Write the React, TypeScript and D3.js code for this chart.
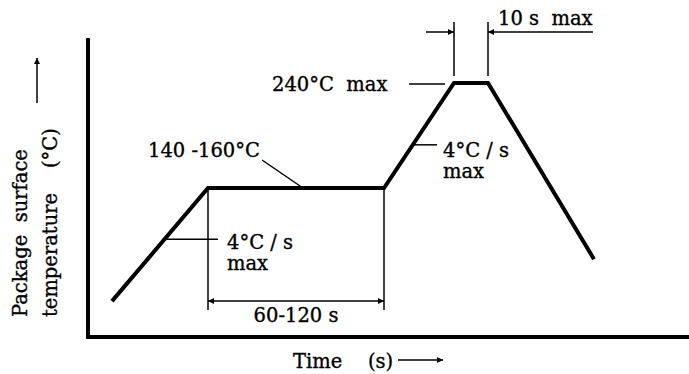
import React from 'react'
import * as d3 from 'd3'

const W = 689
const H = 374

// reflow profile (schematic), time in s, temperature in °C
const times = [12, 60, 148, 183, 200, 253]
const temps = [53, 150, 150, 240, 240, 89]

const soak = [60, 148]
const peak = [183, 200]
const soakLabel = '140 -160°C'
const peakLabel = '240°C  max'
const rampLabel = ['4°C / s', 'max']
const soakTimeLabel = '60-120 s'
const peakTimeLabel = '10 s  max'
const yLabel = ['Package  surface', 'temperature    (°C)']
const xLabel = ['Time', '(s)']

const font = '"DejaVu Serif", "Liberation Serif", serif'
const fs = 19.5
const ink = '#000'
const pre = { whiteSpace: 'pre' as const }

const frame = { left: 88, top: 38, bottom: 337, right: W }

const x = d3.scaleLinear().domain([0, 300]).range([88, 688])
const y = d3.scaleLinear().domain([150, 240]).range([188, 83])

// x position on segment i..i+1 at temperature T
const onRamp = (i: number, T: number) => {
  const t = times[i] + (T - temps[i]) / (temps[i + 1] - temps[i]) * (times[i + 1] - times[i])
  return x(t)
}

const App = () => {
  const pts = times.map((t, i) => [x(t), y(temps[i])] as [number, number])
  const line = d3.line()(pts) as string

  const leftRampT = 106
  const rightRampT = 187
  const lx = onRamp(0, leftRampT)
  const rx = onRamp(2, rightRampT)

  return (
    <svg width={W} height={H} style={{ position: 'absolute', left: 0, top: 0, background: '#fff' }}
      fontFamily={font} fontSize={fs} fill={ink}>
      <defs>
        <marker id="ah" viewBox="0 0 10 10" refX="10" refY="5" markerUnits="userSpaceOnUse"
          markerWidth="10" markerHeight="6" orient="auto-start-reverse">
          <path d="M0,0 L10,5 L0,10 z" fill={ink} />
        </marker>
      </defs>

      {/* axes */}
      <path d={`M${frame.left},${frame.top} V${frame.bottom} H${frame.right}`} fill="none" stroke={ink} strokeWidth={4} />

      {/* profile */}
      <path d={line} fill="none" stroke={ink} strokeWidth={4} strokeLinejoin="miter" />

      <g stroke={ink} strokeWidth={0.35}>
        <text x={(x(soak[0]) + x(soak[1])) / 2} y={322} textAnchor="middle">{soakTimeLabel}</text>
        <text x={148} y={157}>{soakLabel}</text>
        <text x={227} y={249}>{rampLabel[0]}</text>
        <text x={227} y={270}>{rampLabel[1]}</text>
        <text x={443} y={157}>{rampLabel[0]}</text>
        <text x={443} y={178}>{rampLabel[1]}</text>
        <text x={272} y={91} style={pre}>{peakLabel}</text>
        <text x={498} y={25} style={pre}>{peakTimeLabel}</text>
        <text transform="translate(27,317) rotate(-90)" style={pre}>{yLabel[0]}</text>
        <text transform="translate(57,317) rotate(-90)" style={pre}>{yLabel[1]}</text>
        <text x={293} y={368}>{xLabel[0]}</text>
        <text x={368} y={368}>{xLabel[1]}</text>
      </g>

      <g stroke={ink} strokeWidth={1.5}>
        {/* soak time dimension */}
        <line x1={x(soak[0])} x2={x(soak[0])} y1={y(150)} y2={310} />
        <line x1={x(soak[1])} x2={x(soak[1])} y1={y(150)} y2={310} />
        <line x1={x(soak[0])} x2={x(soak[1])} y1={301} y2={301} markerStart="url(#ah)" markerEnd="url(#ah)" />

        {/* soak temperature leader */}
        <line x1={262} y1={160} x2={x(107.5)} y2={y(150)} />

        {/* ramp leaders */}
        <line x1={lx} x2={218} y1={y(leftRampT)} y2={y(leftRampT)} />
        <line x1={rx} x2={437} y1={y(rightRampT)} y2={y(rightRampT)} />

        {/* peak temperature leader */}
        <line x1={409} x2={x(peak[0]) - 9} y1={y(240) + 1} y2={y(240) + 1} />

        {/* peak time dimension */}
        <line x1={x(peak[0])} x2={x(peak[0])} y1={22} y2={76} />
        <line x1={x(peak[1])} x2={x(peak[1])} y1={22} y2={76} />
        <line x1={426} x2={x(peak[0])} y1={32} y2={32} markerEnd="url(#ah)" />
        <line x1={593} x2={x(peak[1])} y1={32} y2={32} markerEnd="url(#ah)" />

        {/* axis label arrows */}
        <line x1={37} x2={37} y1={103} y2={58} markerEnd="url(#ah)" />
        <line x1={398} x2={443} y1={360} y2={360} markerEnd="url(#ah)" />
      </g>
    </svg>
  )
}

export default App
